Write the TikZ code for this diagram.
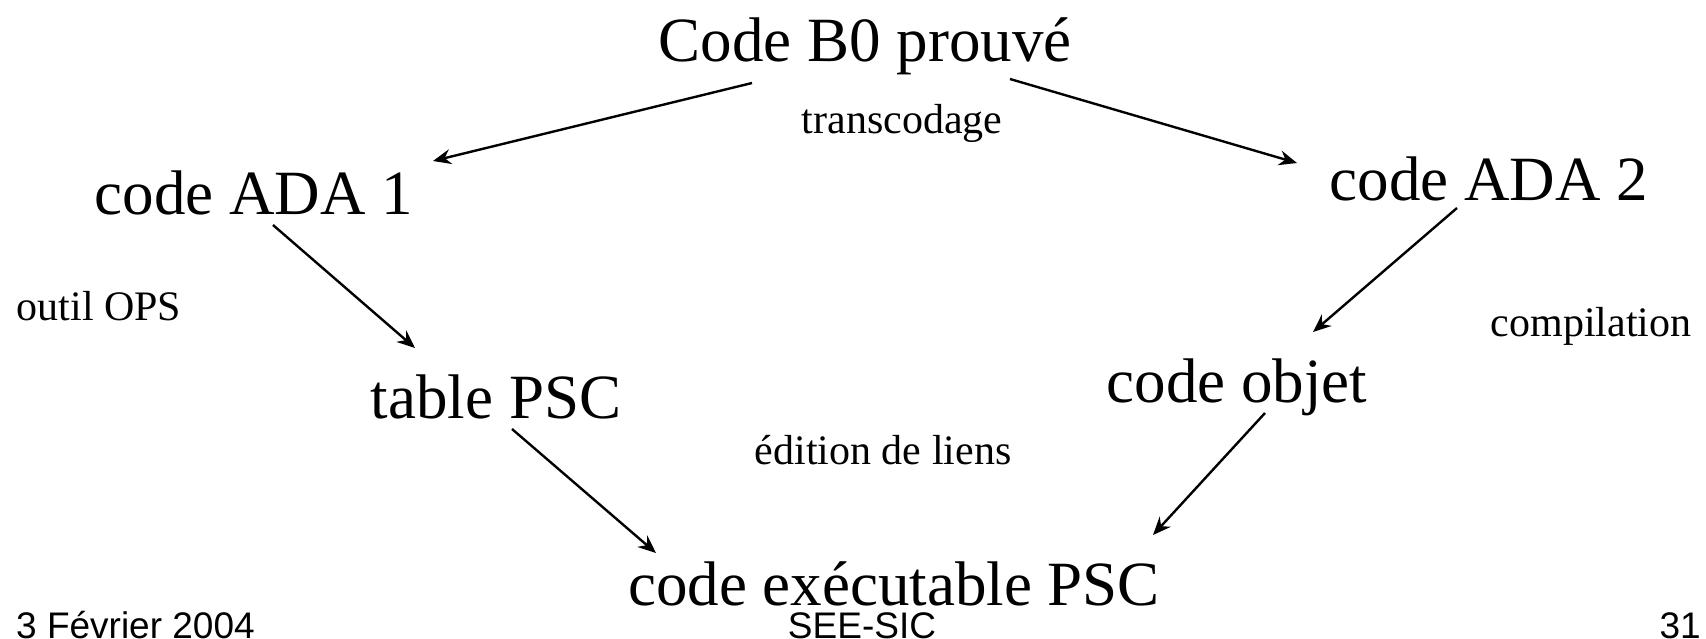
\documentclass[tikz,border=0pt]{standalone}
\usepackage{fontspec}
\setmainfont{Liberation Serif}
\newfontfamily\footfont{Liberation Sans}
\usetikzlibrary{arrows.meta}

\tikzset{
  txt/.style={anchor=base,inner sep=0pt,font=\fontsize{63}{70}\selectfont},
  lbl/.style={anchor=base,inner sep=0pt,font=\fontsize{42}{48}\selectfont},
  foot/.style={inner sep=0pt,font=\footfont\fontsize{37}{42}\selectfont}
}

\begin{document}
\begin{tikzpicture}[x=1pt,y=-1pt,>={Stealth[length=18pt,width=15pt,inset=6pt]},line width=2.4pt]
    \useasboundingbox (0,0) rectangle (1706,638);
    \node[txt] (b0) at (865,61) {Code B0 prouvé};
    \node[txt] (ada1) at (254,214) {code ADA 1};
    \node[txt] (ada2) at (1489,200) {code ADA 2};
    \node[txt] (table) at (496,418) {table PSC};
    \node[txt] (objet) at (1237,402) {code objet};
    \node[txt] (exec) at (894,605) {code exécutable PSC};
    \node[lbl] (trans) at (902,133) {transcodage};
    \node[lbl] (ops) at (99,320) {outil OPS};
    \node[lbl] (comp) at (1591,336) {compilation};
    \node[lbl] (liens) at (883,464) {édition de liens};
    \node[foot,anchor=base west] (date) at (15,638) {3 Février 2004};
    \node[foot,anchor=base] (see) at (862,638) {SEE-SIC};
    \node[foot,anchor=base east] (num) at (1702,638) {31};
    \path[->]
      ([shift={(-113,22)}]b0.base) edge ([shift={(179,-53)}]ada1.base)
      ([shift={(145,18)}]b0.base) edge ([shift={(-192,-37)}]ada2.base)
      ([shift={(19,11)}]ada1.base) edge ([shift={(-81,-70)}]table.base)
      ([shift={(-32,8)}]ada2.base) edge ([shift={(76,-70)}]objet.base)
      ([shift={(16,11)}]table.base) edge ([shift={(-238,-52)}]exec.base)
      ([shift={(28,11)}]objet.base) edge ([shift={(259,-70)}]exec.base);
\end{tikzpicture}
\end{document}
